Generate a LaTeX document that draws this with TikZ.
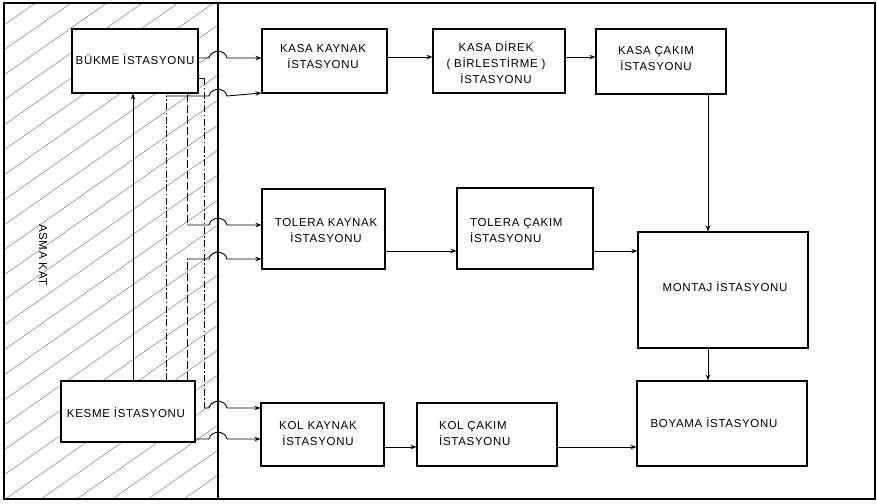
\documentclass[tikz,border=0pt]{standalone}
\usepackage{fontspec}
\newfontfamily\lbl[LetterSpace=6]{Liberation Sans}
\usetikzlibrary{arrows.meta}
\begin{document}
\begin{tikzpicture}[x=1pt,y=-1pt,
  box/.style={draw, line width=1.1pt, fill=white, inner sep=0pt},
  txt/.style={font=\lbl\fontsize{11.5}{16}\selectfont, inner sep=0pt, align=center},
  ln/.style={line width=0.9pt},
  flow/.style={line width=0.9pt, -{Stealth[length=6pt,width=4.5pt]}},
  dashdot/.style={line width=0.9pt, dash pattern=on 7pt off 2.5pt on 1.5pt off 2.5pt},
  longdash/.style={line width=0.9pt, dash pattern=on 8pt off 3pt},
  hatch/.style={black!55, line width=0.45pt}
]
\useasboundingbox (0,0) rectangle (877,503);
% hatched mezzanine
\begin{scope}
  \clip (4,3) rectangle (218,499);
  \foreach \c in {0,25,...,675} \draw[hatch] (4,\c) -- (218,\c-150);
\end{scope}
\draw[line width=1.4pt] (4,3) rectangle (875,499);
\draw[line width=1.2pt] (218,3) -- (218,499);
\node[txt, rotate=-90] (asma) at (43,255) {ASMA KAT};

% boxes
\node[box, minimum width=126pt, minimum height=64pt] (bukme) at (135,61) {};
\node[box, minimum width=134pt, minimum height=61pt] (kesme) at (128,411.5) {};
\node[box, minimum width=125pt, minimum height=64pt] (kasakay) at (324.5,61) {};
\node[box, minimum width=132pt, minimum height=64pt] (kasadir) at (499,61) {};
\node[box, minimum width=130pt, minimum height=65pt] (kasacak) at (661,61.5) {};
\node[box, minimum width=123pt, minimum height=80pt] (tolkay) at (323.5,229) {};
\node[box, minimum width=136pt, minimum height=81pt] (tolcak) at (525,228.5) {};
\node[box, minimum width=170pt, minimum height=116pt] (montaj) at (723,290) {};
\node[box, minimum width=170pt, minimum height=85pt] (boyama) at (722,423.5) {};
\node[box, minimum width=123pt, minimum height=63pt] (kolkay) at (322.5,434.5) {};
\node[box, minimum width=140pt, minimum height=63pt] (kolcak) at (487,434.5) {};

% texts
\node[txt] (t-bukme) at (135,60) {BÜKME İSTASYONU};
\node[txt] (t-kesme) at (126,413) {KESME İSTASYONU};
\node[txt] (t-kasakay) at (323,57) {KASA KAYNAK\\İSTASYONU};
\node[txt] (t-kasadir) at (496,63) {KASA DİREK\\( BİRLESTİRME )\\İSTASYONU};
\node[txt] (t-kasacak) at (656,59) {KASA ÇAKIM\\İSTASYONU};
\node[txt] (t-tolkay) at (326,231) {TOLERA KAYNAK\\İSTASYONU};
\node[txt, anchor=west, align=left] (t-tolcak) at (470,231) {TOLERA ÇAKIM\\İSTASYONU};
\node[txt] (t-montaj) at (725,287) {MONTAJ İSTASYONU};
\node[txt] (t-boyama) at (714,423) {BOYAMA İSTASYONU};
\node[txt] (t-kolkay) at (318,434) {KOL KAYNAK\\İSTASYONU};
\node[txt, anchor=west, align=left] (t-kolcak) at (439,434) {KOL ÇAKIM\\İSTASYONU};

% helper coordinates
\coordinate (y58) at (0,58);
\coordinate (y93) at (0,93);
\coordinate (yk) at (0,57);
\coordinate (yt) at (0,251);
\coordinate (yl) at (0,447);
\coordinate (y439) at (0,439);
\coordinate (x133) at (133,0);
\coordinate (xm) at (708,0);
\coordinate (k1) at (166,96);
\coordinate (b2) at (187,225);
\coordinate (k2) at (187,259);
\coordinate (b3) at (204,78);
\coordinate (b4) at (204,408);

% Bükme -> Kasa Kaynak
\draw[flow] (bukme.east |- y58) -- (209,58) .. controls (211,49) and (225,49) .. (227,58) -- (kasakay.west |- y58);
% Kesme -> Kasa Kaynak
\draw[dashdot] (kesme.north -| k1) -- (k1);
\draw[flow] (k1) -- (209,96) .. controls (211,87) and (225,87) .. (227,96) -- (kasakay.west |- y93);
% Bükme -> Tolera Kaynak
\draw[longdash] (bukme.south -| b2) -- (b2);
\draw[flow] (b2) -- (209,225) .. controls (211,216) and (225,216) .. (227,225) -- (tolkay.west |- b2);
% Kesme -> Tolera Kaynak
\draw[longdash] (kesme.north -| k2) -- (k2);
\draw[flow] (k2) -- (209,259) .. controls (211,250) and (225,250) .. (227,259) -- (tolkay.west |- k2);
% Bükme -> Kol Kaynak
\draw[ln] (bukme.east |- b3) -- (b3);
\draw[dashdot] (b3) -- (b4);
\draw[flow] (b4) -- (209,408) .. controls (211,399) and (225,399) .. (227,408) -- (kolkay.west |- b4);
% Kesme -> Kol Kaynak
\draw[flow] (kesme.east |- y439) -- (209,439) .. controls (211,430) and (225,430) .. (227,439) -- (kolkay.west |- y439);
% Kesme -> Bükme
\draw[flow] (kesme.north -| x133) -- (bukme.south -| x133);

% main flow
\draw[flow] (kasakay.east |- yk) -- (kasadir.west |- yk);
\draw[flow] (kasadir.east |- yk) -- (kasacak.west |- yk);
\draw[flow] (kasacak.south -| xm) -- (montaj.north -| xm);
\draw[flow] (montaj.south -| xm) -- (boyama.north -| xm);
\draw[flow] (tolkay.east |- yt) -- (tolcak.west |- yt);
\draw[flow] (tolcak.east |- yt) -- (montaj.west |- yt);
\draw[flow] (kolkay.east |- yl) -- (kolcak.west |- yl);
\draw[flow] (kolcak.east |- yl) -- (boyama.west |- yl);
\end{tikzpicture}
\end{document}
